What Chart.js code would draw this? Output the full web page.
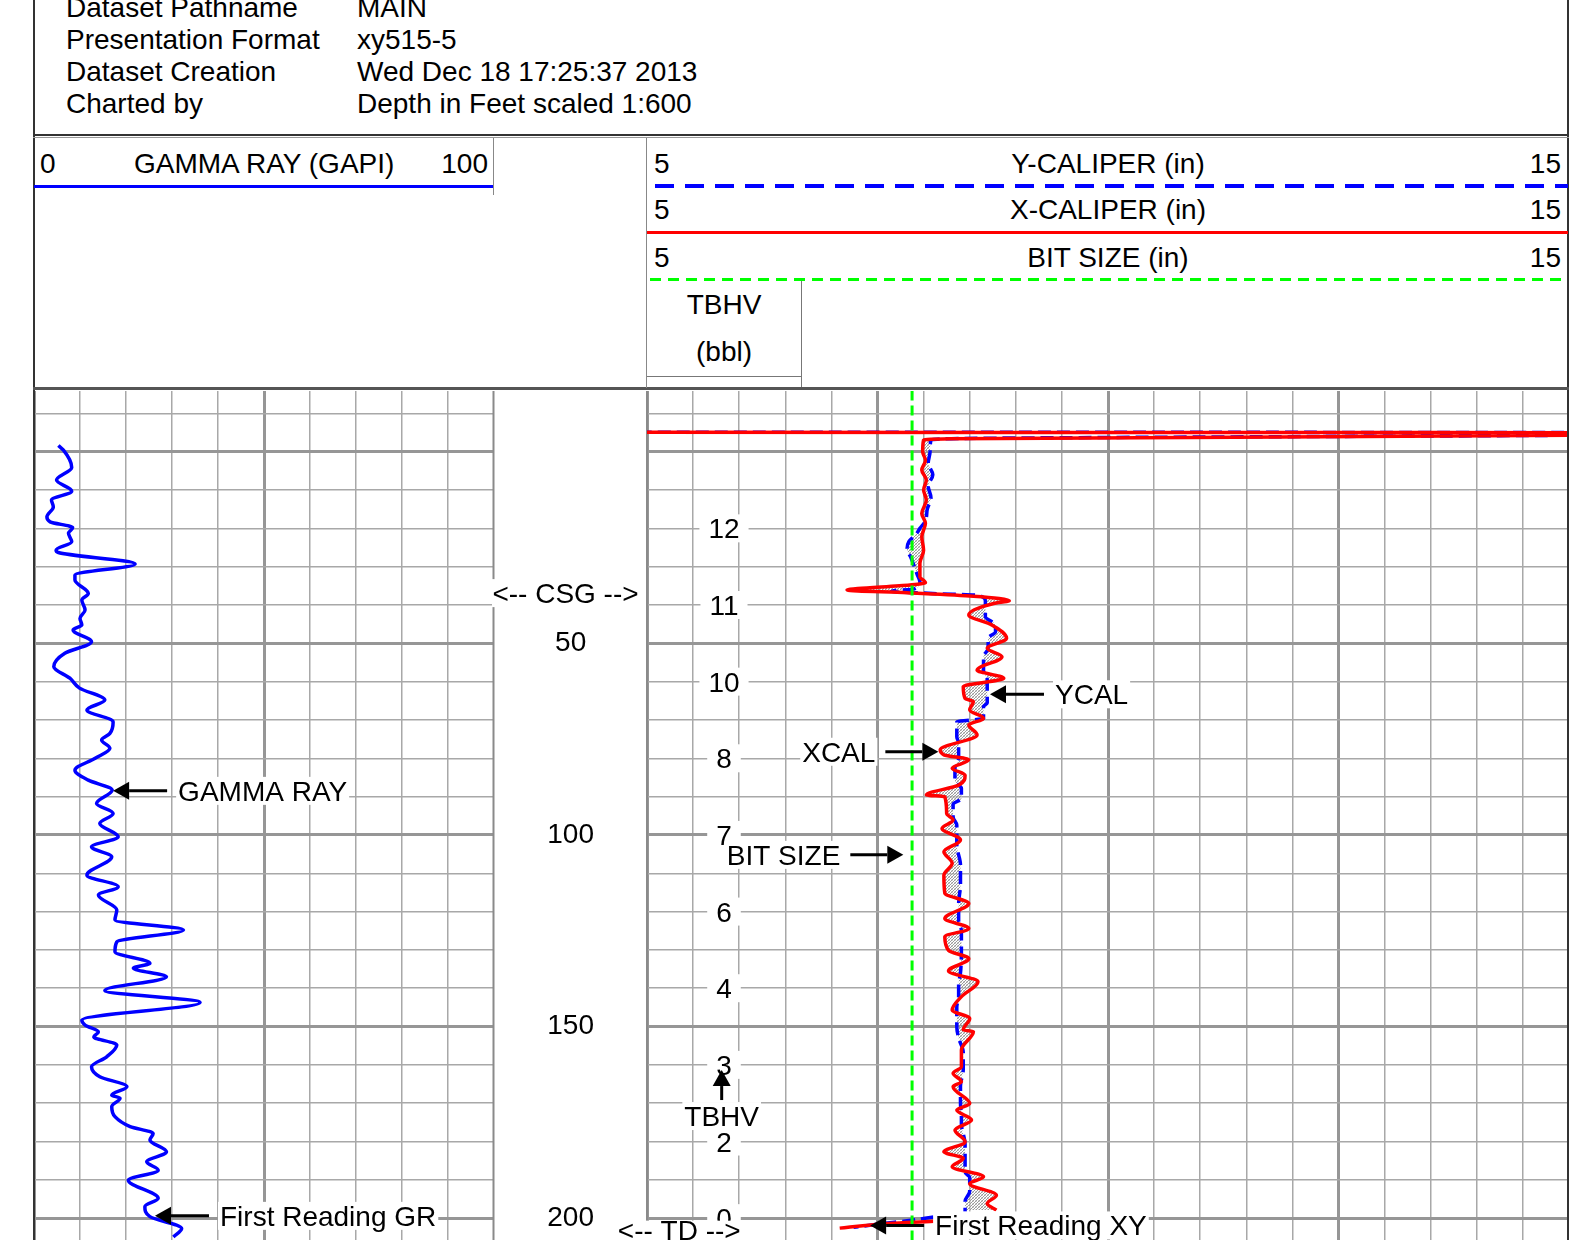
<!DOCTYPE html>
<html>
<head>
<meta charset="utf-8">
<title>xy515-5 caliper log</title>
<script src="https://cdn.jsdelivr.net/npm/chart.js@4.4.1/dist/chart.umd.min.js"></script>
<style>
  html, body { margin: 0; padding: 0; background: #fff; }
  body { position: relative; width: 1584px; height: 1240px; overflow: hidden;
         font-family: "Liberation Sans", Arial, sans-serif; color: #000; }
  .t { position: absolute; font-size: 28px; line-height: 32px; white-space: nowrap; }
  .c { text-align: center; }
  .r { text-align: right; }
  .ln { position: absolute; z-index: 5; }
  canvas { position: absolute; }
</style>
</head>
<body>

<!-- dataset header -->
<div class="t" style="left:66px;top:-8px">Dataset Pathname</div>
<div class="t" style="left:357px;top:-8px">MAIN</div>
<div class="t" style="left:66px;top:24px">Presentation Format</div>
<div class="t" style="left:357px;top:24px">xy515-5</div>
<div class="t" style="left:66px;top:56px">Dataset Creation</div>
<div class="t" style="left:357px;top:56px">Wed Dec 18 17:25:37 2013</div>
<div class="t" style="left:66px;top:88px">Charted by</div>
<div class="t" style="left:357px;top:88px">Depth in Feet scaled 1:600</div>

<!-- track headers -->
<div class="t" style="left:40px;top:148px">0</div>
<div class="t c" style="left:134px;width:260px;top:148px">GAMMA RAY (GAPI)</div>
<div class="t r" style="left:400px;width:88px;top:148px">100</div>

<div class="t" style="left:654px;top:148px">5</div>
<div class="t c" style="left:908px;width:400px;top:148px">Y-CALIPER (in)</div>
<div class="t r" style="left:1480px;width:81px;top:148px">15</div>
<div class="t" style="left:654px;top:194px">5</div>
<div class="t c" style="left:908px;width:400px;top:194px">X-CALIPER (in)</div>
<div class="t r" style="left:1480px;width:81px;top:194px">15</div>
<div class="t" style="left:654px;top:242px">5</div>
<div class="t c" style="left:908px;width:400px;top:242px">BIT SIZE (in)</div>
<div class="t r" style="left:1480px;width:81px;top:242px">15</div>
<div class="t c" style="left:647px;width:154px;top:289px">TBHV</div>
<div class="t c" style="left:647px;width:154px;top:336px">(bbl)</div>

<!-- frame and header rules -->
<div class="ln" style="left:33px;top:0;width:2px;height:1240px;background:#333"></div>
<div class="ln" style="left:1567px;top:0;width:2px;height:1240px;background:#333"></div>
<div class="ln" style="left:33px;top:134px;width:1536px;height:2px;background:#333"></div>
<div class="ln" style="left:33px;top:137px;width:1536px;height:1px;background:#999"></div>
<div class="ln" style="left:33px;top:387px;width:1536px;height:3px;background:#555"></div>
<div class="ln" style="left:34px;top:185px;width:459px;height:3px;background:#0000ff"></div>
<div class="ln" style="left:493px;top:138px;width:1px;height:57px;background:#888"></div>
<div class="ln" style="left:646px;top:138px;width:1px;height:250px;background:#888"></div>
<div class="ln" style="left:655px;top:184px;width:913px;height:4px;background:repeating-linear-gradient(90deg,#0000ff 0 19px,transparent 19px 30px)"></div>
<div class="ln" style="left:647px;top:231px;width:921px;height:3px;background:#ff0000"></div>
<div class="ln" style="left:650px;top:278px;width:918px;height:3px;background:repeating-linear-gradient(90deg,#00ff00 0 11px,transparent 11px 18px)"></div>
<div class="ln" style="left:647px;top:376px;width:155px;height:1px;background:#777"></div>
<div class="ln" style="left:801px;top:281px;width:1px;height:106px;background:#777"></div>

<canvas id="gr" width="460" height="849" style="left:34px;top:391px;z-index:1"></canvas>
<canvas id="cal" width="1077" height="849" style="left:492px;top:391px;z-index:2"></canvas>

<script>
// ---- data (depth in ft, values in track units) ----
const grDepth = [-1.6,-0.4,4.1,7.4,10.3,12.6,14.4,17,18.3,19.8,21.3,23.5,25.7,26.3,29.3,32.2,33.5,37,38.7,41.3,
  43.5,45.2,46.5,49.6,52.6,56.1,59.1,61.7,64.8,67.4,70.5,73.5,75.2,77.4,80,83.1,85.7,88.3,91.8,94.4,
  97,100.5,103.1,105.7,110.5,113.5,115.7,119.6,122.2,124.8,127.9,130.5,133.5,134.8,137,140.6,143.7,148.3,149.6,151.4,
  152.7,154.8,157.9,160.5,163.1,165.7,167.9,168.7,170.9,173.5,176.1,177.9,179.6,182.7,185.3,187.5,190.1,194.8,197,199.6,
  202.7,204.9];
const grValue = [5.3,6.4,8.2,4.9,8.2,3.8,4.2,2.8,3.5,8.4,7.5,8.2,4.8,5.3,22,8.9,8.9,11.8,10.4,11.1,
  10,10.4,8.5,12.5,6.7,4.3,7.8,9.9,15.4,11.5,17.2,16.5,14.7,16.5,13.3,8.9,11.8,17,13.6,17.2,
  14.3,18.3,12.5,16.9,11.5,18.3,14,18,17.6,32.5,18,17.6,25.2,21.6,28.8,15.4,36.1,10.4,11.1,14,
  13,18,15.8,12.5,14.3,20.2,16.9,18.7,16.9,17.6,20.9,25.9,25.2,28.8,24.5,27,20.5,27,24.1,25.2,
  32.1,30.3];

const xcalDepth = [-5.05,-4.95,-4.4,-3.35,-3.05,0,2.2,4.8,7.4,10,12.6,16.1,18.7,22.2,25.7,29.1,32.6,34.2,34.8,36.1,
  36.8,37.7,38.9,39.6,42.6,45.2,48.7,51.3,53.5,57,59.1,61.3,64.4,65.2,67.4,69.6,71.3,73.9,77.8,79.1,
  80.4,82.6,84.4,87,89.6,90,94.4,96.1,98.3,101.3,104.4,107.4,110.5,115.2,117.9,121.8,124.4,126.6,130.1,132.3,
  135.5,138.3,142.2,145.7,147.9,150.9,151.3,156.1,160.5,162.2,164.4,165.7,170.1,171.8,174.4,177,180.1,182.7,184.4,186.6,
  189.2,191,194,196.2,197.9,199.2,200.8,201.7,202.6];
const xcalValue = [4.5,15.6,15.6,8.3,8.0,7.99,8.02,7.98,8.03,8.0,8.03,7.98,8.02,7.98,8.0,7.96,7.96,8.02,7.85,7.17,
  7.82,8.54,8.93,8.76,8.49,8.74,8.9,8.69,8.85,8.58,8.87,8.43,8.45,8.54,8.5,8.65,8.49,8.58,8.18,8.22,
  8.49,8.31,8.45,8.38,8.03,8.23,8.25,8.32,8.2,8.4,8.22,8.31,8.22,8.23,8.49,8.23,8.49,8.23,8.27,8.49,
  8.27,8.59,8.41,8.31,8.5,8.43,8.54,8.41,8.41,8.32,8.41,8.32,8.5,8.36,8.52,8.34,8.45,8.22,8.43,8.31,
  8.65,8.5,8.79,8.69,8.79,null,8.11,7.46,7.09];

const ycalDepth = [-5.1,-5.0,-4.5,-3.4,-3.0,0,3,6,9,12,15,18,20,21.5,23.5,25.5,27.5,30,32,34,
  35.8,36.4,37.0,37.5,39.1,43.1,45.2,47,48.7,51.3,53.5,57,59.6,65.6,66.5,69.6,70.5,74.4,76,80,
  82.6,86,87.8,90.5,92,95.3,97.4,102.6,107.8,113,118,122.3,125,130,136,139,142,145,150,153,
  156.7,161.2,165.5,170,173.5,175.3,180.7,188,189.4,193,195.6,198.3,199.2,199.7,200.7,201.5,202.4];
const ycalValue = [4.5,15.6,15.6,8.3,8.08,8.07,8.05,8.1,8.05,8.08,8.04,8.02,7.96,7.92,7.84,7.82,7.86,7.9,7.93,7.96,
  7.9,7.65,8.1,8.6,8.67,8.67,8.78,8.78,8.7,8.7,8.65,8.65,8.69,8.69,8.65,8.65,8.36,8.36,8.38,8.38,
  8.34,8.34,8.41,8.41,8.32,8.32,8.36,8.36,8.4,8.4,8.38,8.38,8.41,8.41,8.4,8.38,8.38,8.36,8.36,8.38,
  8.43,8.43,8.4,8.4,8.41,8.41,8.45,8.45,8.5,8.5,8.45,8.45,null,8.11,7.82,7.53,7.24];

const bitDepth = [-16, 206];
const bitValue = [7.875, 7.875];

// borehole volume ticks (TBHV, bbl)
const tbhvDepth = [20, 40, 60, 80, 100, 120, 140, 160, 180, 200];
const tbhvLabel = ['12', '11', '10', '8', '7', '6', '4', '3', '2', '0'];

const depthMin = -15.84, depthMax = 205.7;
const FONT = '"Liberation Sans", Arial, sans-serif';

function pts(depths, values) {
  return depths.map(function(d, i) { return {x: values[i], y: d}; });
}

// light grid every step, heavy every `major`
function isMajor(v, major) {
  return Math.abs(v / major - Math.round(v / major)) < 1e-6;
}
function gridOpts(major) {
  return {
    drawTicks: false,
    color: function(c) { return c.tick && isMajor(c.tick.value, major) ? '#969696' : '#a8a8a8'; },
    lineWidth: function(c) { return c.tick && isMajor(c.tick.value, major) ? 3 : 1.5; }
  };
}

function boxText(ctx, text, x, y, align, pad) {
  ctx.font = '28px ' + FONT;
  var w = ctx.measureText(text).width;
  var left = align === 'left' ? x : align === 'right' ? x - w : x - w / 2;
  ctx.fillStyle = '#ffffff';
  ctx.fillRect(left - pad, y - 14, w + pad * 2, 28);
  ctx.fillStyle = '#000000';
  ctx.textAlign = 'left';
  ctx.textBaseline = 'alphabetic';
  ctx.fillText(text, left, y + 10);
}

function arrow(ctx, x1, y1, x2, y2) {
  var a = Math.atan2(y2 - y1, x2 - x1), L = 16, H = 9;
  var c = Math.cos(a), s = Math.sin(a);
  ctx.strokeStyle = '#000'; ctx.lineWidth = 3;
  ctx.beginPath(); ctx.moveTo(x1, y1); ctx.lineTo(x2 - L * c, y2 - L * s); ctx.stroke();
  ctx.fillStyle = '#000';
  ctx.beginPath();
  ctx.moveTo(x2, y2);
  ctx.lineTo(x2 - L * c + H * s, y2 - L * s - H * c);
  ctx.lineTo(x2 - L * c - H * s, y2 - L * s + H * c);
  ctx.closePath(); ctx.fill();
}

// arrow + label pointing at a curve; dir = side the arrow points to
function note(ctx, text, px, py, dir) {
  if (dir === 'left') {
    arrow(ctx, px + 54, py, px, py);
    boxText(ctx, text, px + 65, py, 'left', 2);
  } else {
    arrow(ctx, px - 53, py, px, py);
    boxText(ctx, text, px - 63, py, 'right', 2);
  }
}

const grNotes = [
  {text: 'GAMMA RAY', gr: 17.2, depth: 88.5},
  {text: 'First Reading GR', gr: 26.3, depth: 199.4}
];
const calNotes = [
  {text: 'YCAL', cal: 8.72, depth: 63.3, dir: 'left'},
  {text: 'XCAL', cal: 8.16, depth: 78.3, dir: 'right'},
  {text: 'BIT SIZE', cal: 7.78, depth: 105.2, dir: 'right'},
  {text: 'First Reading XY', cal: 7.42, depth: 201.9, dir: 'left'}
];

const grNotesPlugin = {
  id: 'grNotes',
  afterDraw: function(chart) {
    var ctx = chart.ctx, x = chart.scales.x, y = chart.scales.y;
    ctx.save();
    grNotes.forEach(function(n) {
      note(ctx, n.text, x.getPixelForValue(n.gr), y.getPixelForValue(n.depth), 'left');
    });
    ctx.restore();
  }
};

const calNotesPlugin = {
  id: 'calNotes',
  afterDraw: function(chart) {
    var ctx = chart.ctx, x = chart.scales.x, y = chart.scales.y;
    ctx.save();
    // left edge of depth track
    ctx.strokeStyle = '#8a8a8a'; ctx.lineWidth = 2;
    ctx.beginPath(); ctx.moveTo(y.left + 1.5, 0); ctx.lineTo(y.left + 1.5, chart.height); ctx.stroke();

    boxText(ctx, '<-- CSG -->', (y.left + y.right) / 2 - 4, y.getPixelForValue(36.9), 'center', 1);

    var tx = x.getPixelForValue(5.835);
    tbhvDepth.forEach(function(d, i) {
      boxText(ctx, tbhvLabel[i], tx, y.getPixelForValue(d), 'center', 9);
    });

    var ay = y.getPixelForValue(161.35), ax = x.getPixelForValue(5.81);
    arrow(ctx, ax, ay + 30, ax, ay);
    boxText(ctx, 'TBHV', ax, ay + 46, 'center', 2);

    calNotes.forEach(function(n) {
      note(ctx, n.text, x.getPixelForValue(n.cal), y.getPixelForValue(n.depth), n.dir);
    });

    ctx.save();
    ctx.font = '28px ' + FONT;
    var tdY = y.getPixelForValue(203), tdX = x.getPixelForValue(5.35);
    var w = ctx.measureText('<-- TD -->').width;
    ctx.fillStyle = '#fff';
    ctx.fillRect(tdX - w / 2 - 2, tdY - 9, w + 4, 26);
    ctx.fillStyle = '#000'; ctx.textAlign = 'center'; ctx.textBaseline = 'alphabetic';
    ctx.fillText('<-- TD -->', tdX, tdY + 10);
    ctx.restore();

    ctx.restore();
  }
};

function stipple() {
  var c = document.createElement('canvas');
  c.width = 3; c.height = 3;
  var g = c.getContext('2d');
  g.fillStyle = '#9a9a9a';
  g.fillRect(0, 0, 1, 1); g.fillRect(2, 1, 1, 1); g.fillRect(1, 2, 1, 1);
  g.fillStyle = '#d4d4d4';
  g.fillRect(1, 0, 1, 1); g.fillRect(0, 2, 1, 1);
  return g.createPattern(c, 'repeat');
}

function depthScale(showLabels) {
  return {
    type: 'linear', reverse: true, min: depthMin, max: depthMax,
    afterFit: function(s) {
      s.width = showLabels ? 155 : 0;
      s.paddingTop = 0; s.paddingBottom = 0;
    },
    ticks: {
      display: showLabels, stepSize: 10, includeBounds: false, autoSkip: false,
      crossAlign: 'center', padding: 53, color: '#000',
      font: {family: FONT, size: 28},
      callback: function(v) { return (v > 0 && v % 50 === 0) ? String(v) : ''; }
    },
    grid: gridOpts(50),
    border: {display: showLabels, color: '#8a8a8a', width: 2}
  };
}

const common = {
  indexAxis: 'y', responsive: false, animation: false, events: [],
  layout: {padding: 0, autoPadding: false},
  plugins: {legend: {display: false}, tooltip: {enabled: false},
            filler: {drawTime: 'beforeDatasetsDraw'}}
};

new Chart(document.getElementById('gr'), {
  type: 'line',
  data: {
    datasets: [{
      label: 'GAMMA RAY', data: pts(grDepth, grValue),
      borderColor: '#0000ff', borderWidth: 3.5, pointRadius: 0,
      cubicInterpolationMode: 'monotone', fill: false, clip: 0
    }]
  },
  options: Object.assign({}, common, {
    scales: {
      x: {type: 'linear', position: 'top', min: 0, max: 100,
          afterFit: function(s) { s.height = 0; },
          ticks: {display: false, stepSize: 10}, grid: gridOpts(50), border: {display: false}},
      y: depthScale(false)
    }
  }),
  plugins: [grNotesPlugin]
});

new Chart(document.getElementById('cal'), {
  type: 'line',
  data: {
    datasets: [
      {label: 'BIT SIZE', data: pts(bitDepth, bitValue), order: 0,
       borderColor: '#00ff00', borderWidth: 3, borderDash: [10, 5],
       pointRadius: 0, fill: false, clip: 0},
      {label: 'X-CALIPER', data: pts(xcalDepth, xcalValue), order: 1,
       borderColor: '#ff0000', borderWidth: 3.5, pointRadius: 0,
       cubicInterpolationMode: 'monotone', fill: 2, backgroundColor: stipple(), clip: 0},
      {label: 'Y-CALIPER', data: pts(ycalDepth, ycalValue), order: 2,
       borderColor: '#0000ff', borderWidth: 3.5, borderDash: [13, 6], pointRadius: 0,
       cubicInterpolationMode: 'monotone', fill: false, clip: 0}
    ]
  },
  options: Object.assign({}, common, {
    scales: {
      x: {type: 'linear', position: 'top', min: 5, max: 15,
          afterFit: function(s) { s.height = 0; s.paddingLeft = 0; s.paddingRight = 0; },
          ticks: {display: false, stepSize: 0.5}, grid: gridOpts(2.5), border: {display: false}},
      y: depthScale(true)
    }
  }),
  plugins: [calNotesPlugin]
});
</script>
</body>
</html>
